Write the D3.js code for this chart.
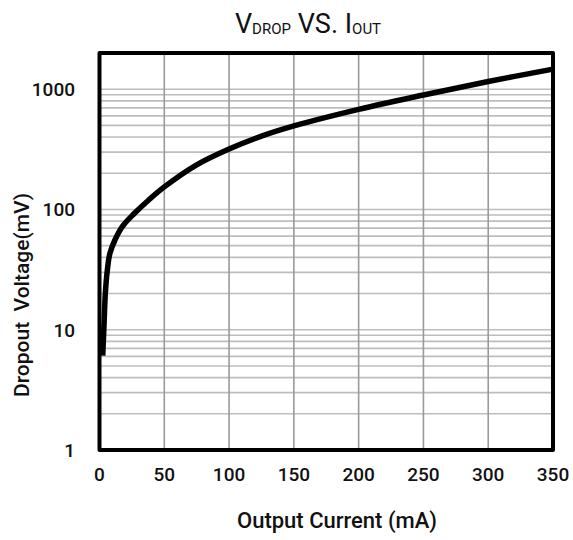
<!DOCTYPE html>
<html>
<head>
<meta charset="utf-8">
<script src="https://cdn.jsdelivr.net/npm/d3@7"></script>
<style>
  body { margin: 0; background: #fff; }
  text { font-family: Roboto, "DejaVu Sans", sans-serif; font-weight: 500; fill: #111; }
</style>
</head>
<body>
<div id="chart"></div>
<script>
// dropout voltage vs output current
var current = [2.5, 3.5, 4.5, 6, 8, 12, 18, 27, 38, 50, 75, 100, 125, 150, 200, 250, 300, 350];
var dropout = [6.1, 11, 20, 31, 43, 56, 73, 93, 120, 154, 235, 318, 407, 495, 680, 895, 1160, 1470];

var xTicks = [0, 50, 100, 150, 200, 250, 300, 350];
var yTicks = [1, 10, 100, 1000];

var width = 573, height = 540;
var margin = {top: 53, right: 20, bottom: 90, left: 99.5};

var svg = d3.select("#chart").append("svg")
    .attr("width", width)
    .attr("height", height);

var x = d3.scaleLinear().domain([0, 350]).range([margin.left, width - margin.right]);
var y = d3.scaleLog().domain([1, 2000]).range([height - margin.bottom, margin.top]);

// minor log grid: 1..9 in each decade
var yGrid = [];
for (var d = 1; d <= 1000; d *= 10) {
    for (var k = 1; k <= 9; k++) {
        if (d * k < 2000) yGrid.push(d * k);
    }
}

svg.append("g").selectAll("line")
    .data(yGrid)
    .enter().append("line")
    .attr("x1", x(0)).attr("x2", x(350))
    .attr("y1", function(v) { return y(v); })
    .attr("y2", function(v) { return y(v); })
    .attr("stroke", "#bdbdbd")
    .attr("stroke-width", 1.6);

svg.append("g").selectAll("line")
    .data(xTicks.slice(1, -1))
    .enter().append("line")
    .attr("x1", function(v) { return x(v); })
    .attr("x2", function(v) { return x(v); })
    .attr("y1", y(1)).attr("y2", y(2000))
    .attr("stroke", "#9a9a9a")
    .attr("stroke-width", 1.6);

// curve
var line = d3.line()
    .x(function(d, i) { return x(current[i]); })
    .y(function(d, i) { return y(dropout[i]); })
    .curve(d3.curveCatmullRom.alpha(0.5));

svg.append("path")
    .datum(current)
    .attr("d", line)
    .attr("fill", "none")
    .attr("stroke", "#000")
    .attr("stroke-width", 5.5);

// frame
svg.append("rect")
    .attr("x", x(0)).attr("y", y(2000))
    .attr("width", x(350) - x(0))
    .attr("height", y(1) - y(2000))
    .attr("fill", "none")
    .attr("stroke", "#000")
    .attr("stroke-width", 4)
    .attr("stroke-linejoin", "round");

// tick labels
svg.append("g").selectAll("text")
    .data(xTicks)
    .enter().append("text")
    .attr("x", function(v) { return x(v); })
    .attr("y", 481)
    .attr("text-anchor", "middle")
    .style("font-size", "19px")
    .text(function(v) { return v; });

svg.append("g").selectAll("text")
    .data(yTicks)
    .enter().append("text")
    .attr("x", 75)
    .attr("y", function(v) { return y(v); })
    .attr("dy", "0.36em")
    .attr("text-anchor", "end")
    .style("font-size", "19px")
    .text(function(v) { return v; });

// axis titles
svg.append("text")
    .attr("x", 337).attr("y", 528)
    .attr("text-anchor", "middle")
    .style("font-size", "22px")
    .text("Output Current (mA)");

svg.append("text")
    .attr("transform", "translate(29,295) rotate(-90)")
    .attr("text-anchor", "middle")
    .style("font-size", "21px")
    .style("white-space", "pre")
    .text("Dropout  Voltage(mV)");

// title with subscripts
var title = svg.append("text")
    .attr("x", 308).attr("y", 33)
    .attr("text-anchor", "middle")
    .style("font-size", "27px")
    .style("font-weight", 400);
title.append("tspan").text("V");
title.append("tspan").attr("dy", 1).style("font-size", "15px").text("DROP");
title.append("tspan").attr("dy", -1).text(" VS. I");
title.append("tspan").attr("dy", 1).style("font-size", "15px").text("OUT");
</script>
</body>
</html>
